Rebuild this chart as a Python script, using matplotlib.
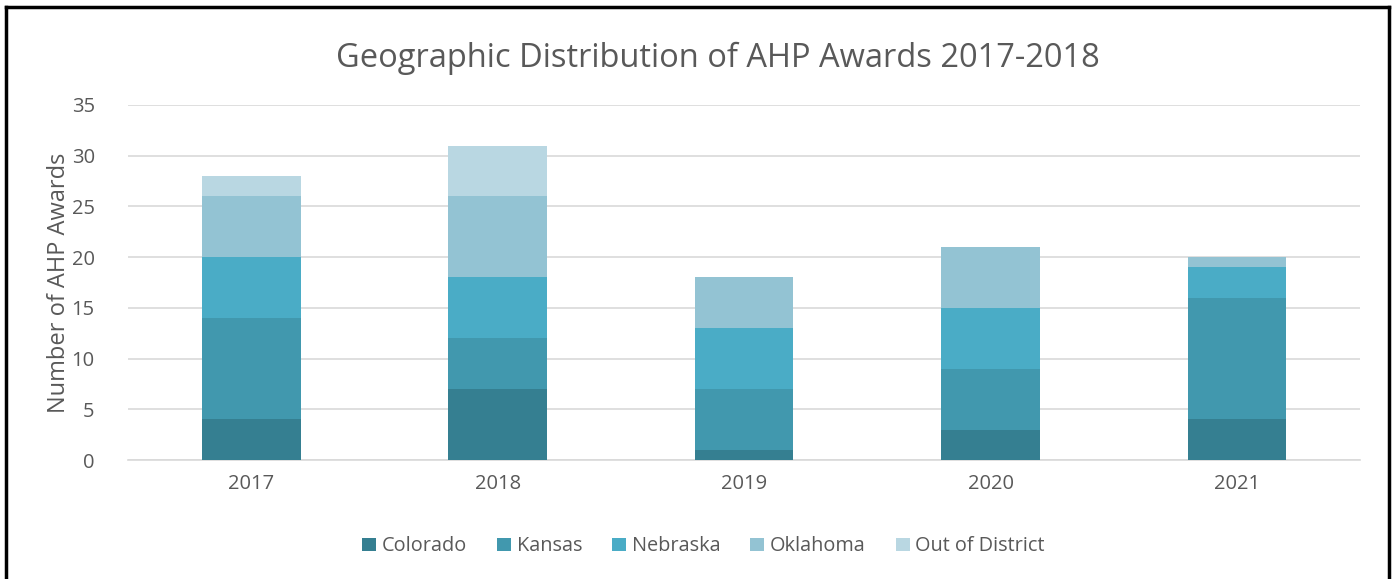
import numpy as np
import matplotlib
matplotlib.use('Agg')
import matplotlib.pyplot as plt
from matplotlib.lines import Line2D

# Data
years = ['2017', '2018', '2019', '2020', '2021']
colorado = [4, 7, 1, 3, 4]
kansas = [10, 5, 6, 6, 12]
nebraska = [6, 6, 6, 6, 3]
oklahoma = [6, 8, 5, 6, 1]
out_of_district = [2, 5, 0, 0, 0]

series = [('Colorado', colorado, '#357F91'),
          ('Kansas', kansas, '#4198AE'),
          ('Nebraska', nebraska, '#4AACC6'),
          ('Oklahoma', oklahoma, '#93C3D3'),
          ('Out of District', out_of_district, '#B9D7E2')]

plt.rcParams['font.family'] = ['Open Sans', 'DejaVu Sans']
text_color = '#595959'

fig = plt.figure(figsize=(13.95, 5.79), dpi=100)
ax = fig.add_axes([0.0918, 0.2055, 0.8832, 0.6132])

x = np.arange(len(years))
bottom = np.zeros(len(years))
for name, vals, col in series:
    ax.bar(x, vals, width=0.4, bottom=bottom, color=col, label=name, zorder=3)
    bottom += np.array(vals)

ax.set_xlim(-0.5, 4.5)
ax.set_ylim(0, 35)
ax.set_yticks(range(0, 36, 5))
ax.set_xticks(x)
ax.set_xticklabels(years)
ax.yaxis.grid(True, color='#d9d9d9', linewidth=1.2, zorder=0)
for s in ['top', 'right', 'left']:
    ax.spines[s].set_visible(False)
ax.spines['bottom'].set_color('#d9d9d9')
ax.spines['bottom'].set_linewidth(1.2)
ax.tick_params(axis='both', length=0, labelsize=14.5, colors=text_color)
ax.tick_params(axis='y', pad=24)
ax.tick_params(axis='x', pad=10)
ax.set_ylabel('Number of AHP Awards', fontsize=17, color=text_color)
ax.yaxis.set_label_coords(-0.046, 0.5)

fig.text(0.515, 0.9, 'Geographic Distribution of AHP Awards 2017-2018',
         ha='center', va='center', fontsize=23.5, color=text_color)

ax.legend(loc='upper center', bbox_to_anchor=(0.467, -0.165), ncol=5, frameon=False,
          fontsize=14.3, labelcolor=text_color, handlelength=0.7, handleheight=0.7,
          handletextpad=0.3, columnspacing=1.5)

# outer frame
fig.add_artist(Line2D([0.004, 0.004], [0.0, 0.988], color='black', lw=2.5, transform=fig.transFigure))
fig.add_artist(Line2D([0.004, 0.9957], [0.988, 0.988], color='black', lw=2.5, transform=fig.transFigure))
fig.add_artist(Line2D([0.9957, 0.9957], [0.0, 0.988], color='black', lw=2.5, transform=fig.transFigure))

fig.savefig('out.png', dpi=100)
